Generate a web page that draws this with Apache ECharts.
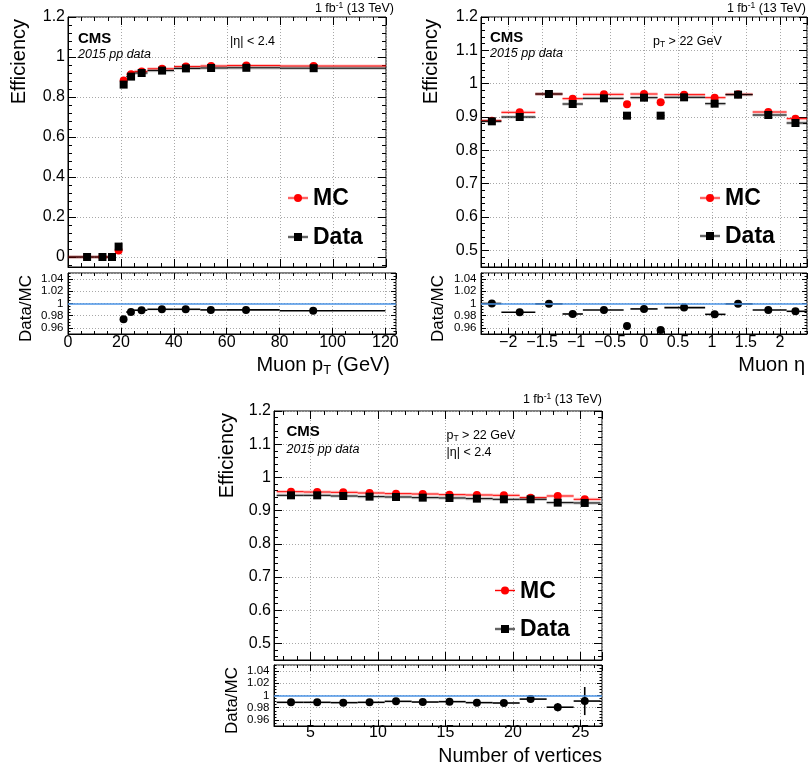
<!DOCTYPE html>
<html>
<head>
<meta charset="utf-8">
<title>Muon trigger efficiency, 2015 pp data</title>
<script src="https://cdn.jsdelivr.net/npm/echarts@6/dist/echarts.min.js"></script>
<style>
  html, body { margin: 0; padding: 0; background: #ffffff; }
  #chart { width: 810px; height: 772px; }
</style>
</head>
<body>
<div id="chart"></div>
<script>
// ---------- efficiency vs muon pT ----------
const ptBinLo    = [0, 10, 15, 18, 20, 22, 25, 30, 40, 50, 60, 80];
const ptBinHi    = [10, 15, 18, 20, 22, 25, 30, 40, 50, 60, 80, 120];
const ptMean     = [7.2, 13.0, 16.6, 19.1, 21.0, 23.8, 27.8, 35.5, 44.5, 54.0, 67.3, 92.7];
const ptEffMC    = [0.000, 0.000, 0.000, 0.032, 0.882, 0.914, 0.928, 0.941, 0.952, 0.955, 0.957, 0.955];
const ptEffData  = [0.000, 0.000, 0.000, 0.052, 0.862, 0.902, 0.920, 0.932, 0.943, 0.945, 0.946, 0.944];
// data/MC is shown from the 20-22 GeV bin onwards
const ptRatioFirstBin = 4;
const ptRatio    = [0.974, 0.986, 0.989, 0.9905, 0.9905, 0.9895, 0.9895, 0.988];

// ---------- efficiency vs muon eta ----------
const etaBinLo   = [-2.4, -2.1, -1.6, -1.2, -0.9, -0.3, -0.2, 0.2, 0.3, 0.9, 1.2, 1.6, 2.1];
const etaBinHi   = [-2.1, -1.6, -1.2, -0.9, -0.3, -0.2, 0.2, 0.3, 0.9, 1.2, 1.6, 2.1, 2.4];
const etaMean    = [-2.24, -1.83, -1.40, -1.05, -0.59, -0.25, 0.0, 0.245, 0.59, 1.04, 1.385, 1.83, 2.23];
const etaEffMC   = [0.889, 0.914, 0.969, 0.955, 0.968, 0.938, 0.969, 0.944, 0.967, 0.958, 0.968, 0.915, 0.895];
const etaEffData = [0.887, 0.900, 0.969, 0.939, 0.956, 0.904, 0.958, 0.904, 0.959, 0.940, 0.967, 0.906, 0.882];
const etaRatio   = [1.000, 0.9856, 0.9994, 0.9828, 0.9894, 0.9633, 0.9911, 0.9567, 0.9933, 0.9822, 0.9994, 0.9894, 0.9872];
const etaRatioErr = [0.002, 0.002, 0.002, 0.002, 0.002, 0.002, 0.002, 0.002, 0.002, 0.002, 0.002, 0.002, 0.002];

// ---------- efficiency vs number of vertices ----------
const vtxBinLo   = [2.5, 4.5, 6.5, 8.5, 10.5, 12.5, 14.5, 16.5, 18.5, 20.5, 22.5, 24.5];
const vtxBinHi   = [4.5, 6.5, 8.5, 10.5, 12.5, 14.5, 16.5, 18.5, 20.5, 22.5, 24.5, 26.5];
const vtxMean    = [3.56, 5.50, 7.43, 9.38, 11.34, 13.32, 15.30, 17.33, 19.33, 21.31, 23.32, 25.32];
const vtxEffMC   = [0.957, 0.956, 0.955, 0.953, 0.951, 0.950, 0.948, 0.947, 0.946, 0.939, 0.944, 0.934];
const vtxErrMC   = [0, 0, 0, 0, 0, 0, 0, 0, 0, 0.002, 0.003, 0.006];
const vtxEffData = [0.946, 0.946, 0.944, 0.942, 0.941, 0.939, 0.938, 0.936, 0.934, 0.934, 0.924, 0.923];
const vtxErrData = [0.001, 0.001, 0.001, 0.001, 0.001, 0.001, 0.001, 0.001, 0.002, 0.003, 0.004, 0.012];
const vtxRatio   = [0.9888, 0.9888, 0.9883, 0.9888, 0.9904, 0.9893, 0.9899, 0.9883, 0.9877, 0.9941, 0.9808, 0.9909];
const vtxRatioErr = [0.0015, 0.0015, 0.0015, 0.0015, 0.0015, 0.0015, 0.0015, 0.0015, 0.0015, 0.0053, 0.0067, 0.023];

// ---------- drawing ----------
const FONT = '"Liberation Sans", Arial, Helvetica, sans-serif';
const RED = '#ff0000';
const RED_BAND = 'rgba(255,0,0,0.22)';
const BLACK = '#000000';
const GREY_BAND = 'rgba(0,0,0,0.22)';
const UNITY = '#4a93e6';

const grids = [], xAxes = [], yAxes = [], series = [], graphics = [];

function addGrid(r) {
  grids.push({ left: r[0], top: r[1], width: r[2], height: r[3], show: true, borderColor: '#000', borderWidth: 1 });
  return grids.length - 1;
}

// value axis with labels, ticks inside and dotted grid lines, plus tick-only
// companion axes for the minor ticks and the mirrored ticks on the opposite side
function addAxis(list, gi, pos, o) {
  const opposite = { bottom: 'top', top: 'bottom', left: 'right', right: 'left' }[pos];
  const isNice = v => Math.abs(Math.round(v / o.major) * o.major - v) < 1e-9;
  const base = { gridIndex: gi, type: 'value', min: o.min, max: o.max };
  const idx = list.length;
  const label = { show: !!o.labels, margin: o.margin, fontSize: o.fontSize || 16, fontFamily: FONT, color: '#000',
                  showMinLabel: isNice(o.min), showMaxLabel: isNice(o.max) };
  if (o.formatter) label.formatter = o.formatter;
  list.push(Object.assign({}, base, {
    position: pos, minInterval: o.major, maxInterval: o.major,
    axisLine: { show: true, onZero: false, lineStyle: { color: '#000', width: 1 } },
    axisTick: { show: true, inside: true, length: o.tick, lineStyle: { color: '#000', width: 1 } },
    axisLabel: label,
    splitLine: { show: true, lineStyle: { color: '#a8a8a8', type: [1, 2], width: 1 } }
  }));
  const tickOnly = (p, iv, len) => Object.assign({}, base, {
    position: p, minInterval: iv, maxInterval: iv,
    axisLine: { show: false, onZero: false },
    axisTick: { show: true, inside: true, length: len, lineStyle: { color: '#000', width: 1 } },
    axisLabel: { show: false }, splitLine: { show: false }
  });
  if (o.minor) list.push(tickOnly(pos, o.minor, o.tick / 2));
  list.push(tickOnly(opposite, o.major, o.tick));
  if (o.minor) list.push(tickOnly(opposite, o.minor, o.tick / 2));
  return idx;
}

// step line with a thin uncertainty band across each bin, and optional vertical error
function bandSeries(xi, yi, lo, hi, mean, val, err, stroke, fill, z) {
  return {
    type: 'custom', xAxisIndex: xi, yAxisIndex: yi, clip: true, silent: true, z: z,
    data: val.map((v, i) => [lo[i], hi[i], v, mean[i], err ? err[i] : 0]),
    encode: { x: 0, y: 2 },
    renderItem: function (params, api) {
      const l = api.value(0), h = api.value(1), v = api.value(2), m = api.value(3), e = api.value(4);
      const a = api.coord([l, v]), b = api.coord([h, v]);
      const children = [
        { type: 'rect', shape: { x: a[0], y: a[1] - 1.6, width: b[0] - a[0], height: 3.2 }, style: { fill: fill } },
        { type: 'line', shape: { x1: a[0], y1: a[1], x2: b[0], y2: b[1] }, style: { stroke: stroke, lineWidth: 1 } }
      ];
      if (e > 0) {
        const t = api.coord([m, v + e]), u = api.coord([m, v - e]);
        children.push({ type: 'line', shape: { x1: t[0], y1: t[1], x2: u[0], y2: u[1] }, style: { stroke: stroke, lineWidth: 1 } });
      }
      return { type: 'group', children: children };
    }
  };
}

// data/MC points: horizontal bin-width bars and vertical error bars
function ratioBars(xi, yi, lo, hi, mean, val, err) {
  return {
    type: 'custom', xAxisIndex: xi, yAxisIndex: yi, clip: true, silent: true, z: 3,
    data: val.map((v, i) => [lo[i], hi[i], v, mean[i], err ? err[i] : 0]),
    encode: { x: 0, y: 2 },
    renderItem: function (params, api) {
      const l = api.value(0), h = api.value(1), v = api.value(2), m = api.value(3), e = api.value(4);
      const a = api.coord([l, v]), b = api.coord([h, v]);
      const children = [
        { type: 'line', shape: { x1: a[0], y1: a[1], x2: b[0], y2: b[1] }, style: { stroke: '#000', lineWidth: 1.6 } }
      ];
      if (e > 0) {
        const t = api.coord([m, v + e]), u = api.coord([m, v - e]);
        children.push({ type: 'line', shape: { x1: t[0], y1: t[1], x2: u[0], y2: u[1] }, style: { stroke: '#000', lineWidth: 1.6 } });
      }
      return { type: 'group', children: children };
    }
  };
}

function markers(xi, yi, mean, val, symbol, color, z, extra) {
  return Object.assign({
    type: 'scatter', xAxisIndex: xi, yAxisIndex: yi, silent: true, z: z,
    data: mean.map((m, i) => [m, val[i]]),
    symbol: symbol, symbolSize: 8, itemStyle: { color: color, opacity: 1 }
  }, extra || {});
}

function text(x, y, str, style, el) {
  graphics.push(Object.assign({
    type: 'text', x: x, y: y, silent: true, z: 10,
    style: Object.assign({ text: str, fill: '#000', fontFamily: FONT, fontSize: 12.5, align: 'left', verticalAlign: 'middle' }, style || {})
  }, el || {}));
}
function vtitle(x, yTop, str, size) {
  text(x, yTop, str, { fontSize: size, align: 'right' }, { rotation: Math.PI / 2 });
}
function legend(cx, yMC, yData, tx) {
  graphics.push({ type: 'rect', silent: true, z: 10, shape: { x: cx - 10, y: yMC - 1.6, width: 20, height: 3.2 }, style: { fill: RED_BAND } });
  graphics.push({ type: 'line', silent: true, z: 10, shape: { x1: cx - 10, y1: yMC, x2: cx + 10, y2: yMC }, style: { stroke: RED, lineWidth: 1 } });
  graphics.push({ type: 'circle', silent: true, z: 11, shape: { cx: cx, cy: yMC, r: 4 }, style: { fill: RED } });
  graphics.push({ type: 'rect', silent: true, z: 10, shape: { x: cx - 10, y: yData - 1.6, width: 20, height: 3.2 }, style: { fill: GREY_BAND } });
  graphics.push({ type: 'line', silent: true, z: 10, shape: { x1: cx - 10, y1: yData, x2: cx + 10, y2: yData }, style: { stroke: BLACK, lineWidth: 1 } });
  graphics.push({ type: 'rect', silent: true, z: 11, shape: { x: cx - 4, y: yData - 4, width: 8, height: 8 }, style: { fill: BLACK } });
  text(tx, yMC + 1, 'MC', { fontSize: 23, fontWeight: 'bold' });
  text(tx, yData + 1, 'Data', { fontSize: 23, fontWeight: 'bold' });
}

const richLumi = {
  a: { fontSize: 12.5, fontFamily: FONT, lineHeight: 15, color: '#000' },
  s: { fontSize: 8.5, fontFamily: FONT, lineHeight: 9, verticalAlign: 'top', color: '#000' }
};
const richSmall = {
  a: { fontSize: 12.5, fontFamily: FONT, lineHeight: 15, color: '#000' },
  s: { fontSize: 8.5, fontFamily: FONT, lineHeight: 8.5, verticalAlign: 'bottom', color: '#000' }
};
const richTitle = {
  a: { fontSize: 20, fontFamily: FONT, lineHeight: 24, color: '#000' },
  s: { fontSize: 13, fontFamily: FONT, lineHeight: 13, verticalAlign: 'bottom', color: '#000' }
};
const minusFmt = v => (v < 0 ? '\u2212' + String(Math.abs(v)) : String(v));

// one efficiency panel: main pad + data/MC pad
function panel(cfg) {
  const gm = addGrid(cfg.mainRect), gr = addGrid(cfg.ratioRect);
  const xm = addAxis(xAxes, gm, 'bottom', { min: cfg.xMain[0], max: cfg.xMain[1], major: cfg.xMajor, minor: cfg.xMinor, tick: 8 });
  const ym = addAxis(yAxes, gm, 'left', { min: cfg.yMain[0], max: cfg.yMain[1], major: cfg.yMajor, minor: cfg.yMinor, tick: 8, labels: true, fontSize: 16, margin: 3 });
  const xr = addAxis(xAxes, gr, 'bottom', { min: cfg.xRatio[0], max: cfg.xRatio[1], major: cfg.xMajor, minor: cfg.xMinor, tick: 6, labels: true, fontSize: 16, margin: cfg.xLabelMargin, formatter: cfg.xFormatter });
  const yr = addAxis(yAxes, gr, 'left', { min: 0.95, max: 1.05, major: 0.02, minor: 0.005, tick: 5, labels: true, fontSize: 11.5, margin: 4.5 });

  series.push(bandSeries(xm, ym, cfg.lo, cfg.hi, cfg.mean, cfg.mc, cfg.mcErr, RED, RED_BAND, 2));
  series.push(bandSeries(xm, ym, cfg.lo, cfg.hi, cfg.mean, cfg.data, cfg.dataErr, BLACK, GREY_BAND, 2));
  series.push(markers(xm, ym, cfg.mean, cfg.mc, 'circle', RED, 3));
  series.push(markers(xm, ym, cfg.mean, cfg.data, 'rect', BLACK, 4));

  series.push(ratioBars(xr, yr, cfg.rLo, cfg.rHi, cfg.rMean, cfg.rVal, cfg.rErr));
  series.push(markers(xr, yr, cfg.rMean, cfg.rVal, 'circle', BLACK, 4, {
    markLine: {
      silent: true, symbol: 'none', animation: false,
      label: { show: false },
      lineStyle: { color: UNITY, width: 1.5, type: 'solid' },
      data: [{ yAxis: 1 }]
    }
  }));
}

panel({
  mainRect: [68, 17, 318, 250], ratioRect: [68, 273, 328, 61],
  xMain: [0, 120], xRatio: [0, 124], xMajor: 20, xMinor: 5, xLabelMargin: 1,
  yMain: [-0.05, 1.2], yMajor: 0.2, yMinor: 0.04,
  lo: ptBinLo, hi: ptBinHi, mean: ptMean, mc: ptEffMC, data: ptEffData,
  rLo: ptBinLo.slice(ptRatioFirstBin), rHi: ptBinHi.slice(ptRatioFirstBin),
  rMean: ptMean.slice(ptRatioFirstBin), rVal: ptRatio, rErr: null
});
panel({
  mainRect: [481, 17, 326, 250], ratioRect: [481, 273, 326, 61],
  xMain: [-2.4, 2.4], xRatio: [-2.4, 2.4], xMajor: 0.5, xMinor: 0.1, xLabelMargin: 1, xFormatter: minusFmt,
  yMain: [0.45, 1.2], yMajor: 0.1, yMinor: 0.02,
  lo: etaBinLo, hi: etaBinHi, mean: etaMean, mc: etaEffMC, data: etaEffData,
  rLo: etaBinLo, rHi: etaBinHi, rMean: etaMean, rVal: etaRatio, rErr: etaRatioErr
});
panel({
  mainRect: [274, 411, 328, 249], ratioRect: [274, 665, 328, 61],
  xMain: [2.3, 26.6], xRatio: [2.3, 26.6], xMajor: 5, xMinor: 1, xLabelMargin: -1,
  yMain: [0.45, 1.2], yMajor: 0.1, yMinor: 0.02,
  lo: vtxBinLo, hi: vtxBinHi, mean: vtxMean, mc: vtxEffMC, data: vtxEffData,
  mcErr: vtxErrMC, dataErr: vtxErrData,
  rLo: vtxBinLo, rHi: vtxBinHi, rMean: vtxMean, rVal: vtxRatio, rErr: vtxRatioErr
});

// ---------- titles, annotations and legends ----------
// muon pT panel
text(394, 9, '{a|1 fb}{s|-1}{a| (13 TeV)}', { rich: richLumi, align: 'right' });
text(78, 39, 'CMS', { fontSize: 15, fontWeight: 'bold' });
text(78, 55, '2015 pp data', { fontSize: 12.5, fontStyle: 'italic' });
text(230, 42, '|\u03b7| < 2.4', { fontSize: 12.5 });
vtitle(19, 19, 'Efficiency', 20);
vtitle(26.5, 275, 'Data/MC', 17);
text(390, 365, '{a|Muon p}{s|T}{a| (GeV)}', { rich: richTitle, align: 'right' });
legend(298, 198, 237, 313);

// muon eta panel
text(806, 9, '{a|1 fb}{s|-1}{a| (13 TeV)}', { rich: richLumi, align: 'right' });
text(490, 38, 'CMS', { fontSize: 15, fontWeight: 'bold' });
text(490, 54, '2015 pp data', { fontSize: 12.5, fontStyle: 'italic' });
text(653, 42, '{a|p}{s|T}{a| > 22 GeV}', { rich: richSmall });
vtitle(431, 19, 'Efficiency', 20);
vtitle(438, 275, 'Data/MC', 17);
text(805, 365, 'Muon \u03b7', { fontSize: 20, align: 'right' });
legend(710, 198, 236, 725);

// number of vertices panel
text(602, 400, '{a|1 fb}{s|-1}{a| (13 TeV)}', { rich: richLumi, align: 'right' });
text(286.5, 431.5, 'CMS', { fontSize: 15, fontWeight: 'bold' });
text(286.5, 450, '2015 pp data', { fontSize: 12.5, fontStyle: 'italic' });
text(446.5, 435.5, '{a|p}{s|T}{a| > 22 GeV}', { rich: richSmall });
text(446.5, 452.5, '|\u03b7| < 2.4', { fontSize: 12.5 });
vtitle(227, 413, 'Efficiency', 20);
vtitle(232, 667, 'Data/MC', 17);
text(602, 757, 'Number of vertices', { fontSize: 19.5, align: 'right' });
legend(505, 590.5, 629, 520);

const chart = echarts.init(document.getElementById('chart'));
chart.setOption({
  animation: false,
  backgroundColor: '#ffffff',
  grid: grids,
  xAxis: xAxes,
  yAxis: yAxes,
  series: series,
  graphic: graphics
});
</script>
</body>
</html>
